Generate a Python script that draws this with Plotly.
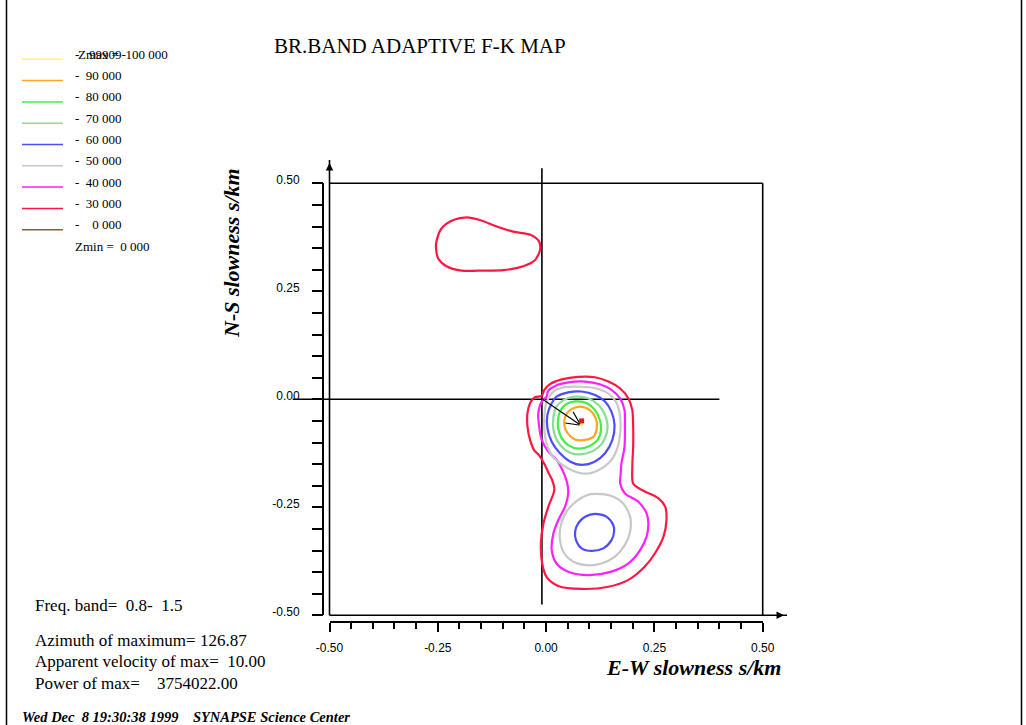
import numpy as np
import plotly.graph_objects as go

W, H = 1026, 725

# ---------------- data ----------------
levels = [100, 90, 80, 70, 60, 50, 40, 30, 0]
level_colors = ["#ffff44", "#ffa520", "#44ee44", "#88dd99", "#4d4dff",
                "#c8c8c8", "#ff1fff", "#ff1744", "#a0522d"]

x_ticks = [-0.5, -0.25, 0.0, 0.25, 0.5]
x_ticktext = ["-0.50", "-0.25", "0.00", "0.25", "0.50"]
y_ticks = [-0.5, -0.25, 0.0, 0.25, 0.5]
y_ticktext = ["-0.50", "-0.25", "0.00", "0.25", "0.50"]

# contour 30 (main, encloses both peaks)
c30a_x = [-0.010, -0.004, 0.009, 0.036, 0.074, 0.113, 0.144, 0.171, 0.190, 0.199, 0.201, 0.201,
          0.199, 0.201, 0.221, 0.259, 0.275, 0.278, 0.271, 0.251, 0.228, 0.190, 0.144, 0.082,
          0.028, 0.001, -0.009, -0.012, -0.006, 0.005, 0.019, 0.014, 0.006, -0.004, -0.016,
          -0.028, -0.037, -0.043, -0.043, -0.037, -0.026, -0.010]
c30a_y = [0.008, 0.022, 0.035, 0.046, 0.052, 0.051, 0.041, 0.025, 0.002, -0.025, -0.063, -0.110,
          -0.156, -0.195, -0.210, -0.229, -0.249, -0.279, -0.318, -0.357, -0.387, -0.418, -0.434, -0.439,
          -0.432, -0.411, -0.380, -0.333, -0.287, -0.249, -0.210, -0.187, -0.171, -0.150, -0.130,
          -0.117, -0.094, -0.063, -0.032, -0.009, 0.005, 0.008]
# contour 30 (upper-left blob)
c30b_x = [-0.253, -0.241, -0.214, -0.183, -0.153, -0.114, -0.076, -0.034, -0.016, -0.014, -0.026,
          -0.053, -0.099, -0.145, -0.195, -0.230, -0.249, -0.254, -0.253]
c30b_y = [0.366, 0.396, 0.415, 0.421, 0.415, 0.400, 0.388, 0.380, 0.365, 0.346, 0.322,
          0.308, 0.299, 0.298, 0.298, 0.308, 0.326, 0.349, 0.366]
# contour 40
c40_x = [0.001, 0.005, 0.021, 0.051, 0.090, 0.124, 0.151, 0.171, 0.181, 0.182, 0.181, 0.174, 0.172,
         0.171, 0.182, 0.213, 0.232, 0.236, 0.232, 0.217, 0.190, 0.151, 0.098, 0.051, 0.024, 0.013,
         0.017, 0.028, 0.044, 0.051, 0.048, 0.036, 0.024, 0.005, -0.010, -0.016, -0.018, -0.010, 0.001]
c40_y = [0.006, 0.020, 0.031, 0.039, 0.041, 0.035, 0.022, 0.002, -0.025, -0.063, -0.110, -0.148, -0.175,
         -0.195, -0.218, -0.237, -0.264, -0.287, -0.318, -0.349, -0.380, -0.399, -0.407, -0.399, -0.380, -0.349,
         -0.310, -0.280, -0.248, -0.218, -0.191, -0.160, -0.140, -0.121, -0.094, -0.063, -0.032, -0.005, 0.006]
# contour 50 (upper peak)
c50a_x = [0.005, 0.017, 0.044, 0.082, 0.121, 0.148, 0.163, 0.171, 0.171, 0.163, 0.148, 0.121, 0.090,
          0.059, 0.032, 0.013, 0.001, -0.004, -0.004, -0.001, 0.005]
c50a_y = [0.002, 0.018, 0.028, 0.029, 0.024, 0.010, -0.009, -0.040, -0.079, -0.117, -0.144, -0.164, -0.172,
          -0.164, -0.148, -0.129, -0.102, -0.071, -0.040, -0.013, 0.002]
# contour 50 (lower peak)
c50b_x = [0.113, 0.151, 0.178, 0.194, 0.194, 0.182, 0.159, 0.128, 0.094, 0.063, 0.042, 0.032, 0.034,
          0.047, 0.071, 0.094, 0.113]
c50b_y = [-0.219, -0.224, -0.241, -0.272, -0.306, -0.337, -0.364, -0.380, -0.384, -0.376, -0.357, -0.326,
          -0.291, -0.260, -0.235, -0.222, -0.219]
# contour 60 (upper peak)
c60a_x = [0.013, 0.024, 0.051, 0.082, 0.113, 0.136, 0.151, 0.158, 0.153, 0.136, 0.113, 0.082, 0.055,
          0.032, 0.013, 0.003, 0.003, 0.013]
c60a_y = [-0.009, 0.006, 0.016, 0.018, 0.010, -0.005, -0.029, -0.060, -0.094, -0.125, -0.144, -0.152,
          -0.144, -0.125, -0.098, -0.067, -0.036, -0.009]
# contour 60 (lower peak)
c60b_x = [0.113, 0.140, 0.155, 0.157, 0.151, 0.132, 0.105, 0.082, 0.069, 0.067, 0.074, 0.090, 0.113]
c60b_y = [-0.265, -0.272, -0.291, -0.306, -0.326, -0.345, -0.351, -0.345, -0.326, -0.306, -0.287, -0.272, -0.265]
# contour 70
c70_x = [0.024, 0.040, 0.067, 0.098, 0.121, 0.136, 0.142, 0.136, 0.121, 0.094, 0.067, 0.044, 0.027,
         0.017, 0.017, 0.024]
c70_y = [-0.017, -0.002, 0.006, 0.002, -0.013, -0.036, -0.063, -0.090, -0.111, -0.125, -0.127, -0.117,
         -0.098, -0.071, -0.040, -0.017]
# contour 80
c80_x = [0.032, 0.044, 0.067, 0.094, 0.113, 0.124, 0.127, 0.119, 0.101, 0.074, 0.051, 0.036, 0.028,
         0.028, 0.032]
c80_y = [-0.029, -0.013, -0.005, -0.009, -0.025, -0.048, -0.071, -0.094, -0.108, -0.114, -0.106, -0.090,
         -0.067, -0.044, -0.029]
# contour 90
c90_x = [0.044, 0.055, 0.078, 0.101, 0.115, 0.117, 0.109, 0.090, 0.067, 0.050, 0.042, 0.044]
c90_y = [-0.040, -0.025, -0.017, -0.025, -0.044, -0.067, -0.087, -0.094, -0.093, -0.079, -0.059, -0.040]

contours = [
    (30, c30a_x, c30a_y), (30, c30b_x, c30b_y), (40, c40_x, c40_y),
    (50, c50a_x, c50a_y), (50, c50b_x, c50b_y), (60, c60a_x, c60a_y),
    (60, c60b_x, c60b_y), (70, c70_x, c70_y), (80, c80_x, c80_y), (90, c90_x, c90_y),
]

# crosshair, arrow to maximum
cross_h_x = [-0.585, 0.40]
cross_h_y = [0.0, 0.0]
cross_v_x = [-0.0097, -0.0097]
cross_v_y = [0.535, -0.475]
arrow_tail = (-0.008, 0.0)
max_x, max_y = 0.08, -0.06
max_mark_x, max_mark_y = 0.082, -0.05

info_lines = ["Freq. band=\u00a0\u00a00.8-\u00a0\u00a01.5",
              "Azimuth of maximum= 126.87",
              "Apparent velocity of max=\u00a0\u00a010.00",
              "Power of max=\u00a0\u00a0\u00a0\u00a03754022.00"]
footer = "Wed Dec\u00a0\u00a08 19:30:38 1999\u00a0\u00a0\u00a0\u00a0SYNAPSE Science Center"
title_text = "BR.BAND ADAPTIVE F-K MAP"

# ---------------- geometry (pixels) ----------------
BOX_L, BOX_R, BOX_T, BOX_B = 329.5, 762.7, 183.3, 615.3
def fx(px): return px / W
def fy(py): return 1 - py / H

sx = (BOX_R - BOX_L) / 1.0
sy = (BOX_B - BOX_T) / 1.0
x2_range = [-0.5 - BOX_L / sx, 0.5 + (W - BOX_R) / sx]
y2_range = [-0.5 - (H - BOX_B) / sy, 0.5 + BOX_T / sy]

color_of = dict(zip(levels, level_colors))

# arrow head arms derived from the arrow direction
back = np.array(arrow_tail) - np.array([max_x, max_y])
back = back / np.linalg.norm(back)
arm_len, arm_ang = 0.036, np.radians(26)
def rot(v, a):
    return np.array([v[0] * np.cos(a) - v[1] * np.sin(a), v[0] * np.sin(a) + v[1] * np.cos(a)])
a1 = np.array([max_x, max_y]) + arm_len * rot(back, arm_ang)
a2 = np.array([max_x, max_y]) + arm_len * rot(back, -arm_ang)

fig = go.Figure()
fig.add_trace(go.Scatter(x=[None], y=[None], xaxis="x", yaxis="y", showlegend=False, hoverinfo="skip"))

fig.add_trace(go.Scatter(x=cross_h_x, y=cross_h_y, mode="lines", xaxis="x2", yaxis="y2",
                         line=dict(color="black", width=1.6), showlegend=False, hoverinfo="skip"))
fig.add_trace(go.Scatter(x=cross_v_x, y=cross_v_y, mode="lines", xaxis="x2", yaxis="y2",
                         line=dict(color="black", width=1.6), showlegend=False, hoverinfo="skip"))

for lvl, cx, cy in contours:
    fig.add_trace(go.Scatter(x=cx, y=cy, mode="lines", xaxis="x2", yaxis="y2",
                             line=dict(color=color_of[lvl], width=2.2, shape="spline", smoothing=0.8),
                             showlegend=False, hoverinfo="skip"))

# arrow: shaft + open head
fig.add_trace(go.Scatter(x=[arrow_tail[0], max_x, None, a1[0], max_x, a2[0]],
                         y=[arrow_tail[1], max_y, None, a1[1], max_y, a2[1]],
                         mode="lines", xaxis="x2", yaxis="y2", line=dict(color="black", width=1.2),
                         showlegend=False, hoverinfo="skip"))

fig.add_trace(go.Scatter(x=[max_mark_x], y=[max_mark_y], mode="markers", xaxis="x2", yaxis="y2",
                         marker=dict(color="#ff1010", size=5, symbol="square"),
                         showlegend=False, hoverinfo="skip"))
fig.add_trace(go.Scatter(x=[max_x], y=[max_y], mode="markers", xaxis="x2", yaxis="y2",
                         marker=dict(color=color_of[100], size=3),
                         showlegend=False, hoverinfo="skip"))

annotations = []
shapes = []
frame = dict(color="black", width=1.6)
shapes += [
    dict(type="line", xref="x domain", yref="y domain", x0=0, x1=1, y0=1, y1=1, line=frame),
    dict(type="line", xref="x domain", yref="y domain", x0=1, x1=1, y0=0, y1=1, line=frame),
    dict(type="line", xref="x domain", yref="y domain", x0=0, x1=(787 - BOX_L) / sx, y0=0, y1=0, line=frame),
    dict(type="line", xref="x domain", yref="y domain", x0=0, x1=0, y0=0, y1=(BOX_B - 160) / sy, line=frame),
    dict(type="line", xref="paper", yref="paper", x0=fx(6.5), x1=fx(6.5), y0=0, y1=1,
         line=dict(color="black", width=1.5)),
    dict(type="line", xref="paper", yref="paper", x0=fx(1021.5), x1=fx(1021.5), y0=0, y1=1,
         line=dict(color="black", width=1.5)),
]
# arrow tips of frame
annotations.append(dict(x=fx(784), y=fy(BOX_B), xref="paper", yref="paper", ax=-8, ay=0, text="",
                        showarrow=True, arrowhead=2, arrowsize=1, arrowwidth=1.5, arrowcolor="black"))
annotations.append(dict(x=fx(BOX_L), y=fy(163), xref="paper", yref="paper", ax=0, ay=8, text="",
                        showarrow=True, arrowhead=2, arrowsize=1, arrowwidth=1.5, arrowcolor="black"))

# legend (custom)
serif = "Liberation Serif"
for i, (lvl, col) in enumerate(zip(levels, level_colors)):
    ly = 59.3 + 21.3 * i
    shapes.append(dict(type="line", xref="paper", yref="paper", x0=fx(22), x1=fx(63),
                       y0=fy(ly), y1=fy(ly), line=dict(color=col, width=1.5)))
    if lvl == 100:
        annotations.append(dict(x=fx(76), y=fy(ly - 5), xref="paper", yref="paper",
                                text="Zmax =\u00a0\u00a0100 000", showarrow=False, xanchor="left",
                                yanchor="middle", font=dict(family=serif, size=13, color="black")))
        annotations.append(dict(x=fx(73), y=fy(ly - 5), xref="paper", yref="paper",
                                text="-\u00a0\u00a0\u00a099909-", showarrow=False, xanchor="left",
                                yanchor="middle", font=dict(family=serif, size=13, color="black")))
    else:
        s = str(lvl)
        txt = "-\u00a0\u00a0" + "\u00a0" * (2 - len(s)) * 2 + s + " 000"
        annotations.append(dict(x=fx(73), y=fy(ly - 5), xref="paper", yref="paper", text=txt,
                                showarrow=False, xanchor="left", yanchor="middle",
                                font=dict(family=serif, size=13, color="black")))
annotations.append(dict(x=fx(73), y=fy(246), xref="paper", yref="paper", text="Zmin =\u00a0\u00a00 000",
                        showarrow=False, xanchor="left", yanchor="middle",
                        font=dict(family=serif, size=13, color="black")))

# title & axis titles
annotations.append(dict(x=fx(420), y=fy(46), xref="paper", yref="paper", text=title_text,
                        showarrow=False, xanchor="center", yanchor="middle",
                        font=dict(family=serif, size=21, color="black")))
annotations.append(dict(x=fx(693.5), y=fy(667), xref="paper", yref="paper",
                        text="<b><i>E-W slowness s/km</i></b>", showarrow=False,
                        xanchor="center", yanchor="middle", font=dict(family=serif, size=22, color="black")))
annotations.append(dict(x=fx(232), y=fy(253), xref="paper", yref="paper",
                        text="<b><i>N-S slowness s/km</i></b>", showarrow=False, textangle=-90,
                        xanchor="center", yanchor="middle", font=dict(family=serif, size=22, color="black")))

# info text
for txt, py in zip(info_lines, [605, 640, 661, 683]):
    annotations.append(dict(x=fx(33), y=fy(py), xref="paper", yref="paper", text=txt,
                            showarrow=False, xanchor="left", yanchor="middle",
                            font=dict(family=serif, size=17, color="black")))
annotations.append(dict(x=fx(20), y=fy(717), xref="paper", yref="paper", text="<b><i>" + footer + "</i></b>",
                        showarrow=False, xanchor="left", yanchor="middle",
                        font=dict(family=serif, size=14.5, color="black")))

tickfont = dict(family="Liberation Sans", size=12, color="black")
fig.update_layout(
    width=W, height=H, margin=dict(l=0, r=0, t=0, b=0, autoexpand=False),
    paper_bgcolor="white", plot_bgcolor="rgba(0,0,0,0)", showlegend=False,
    xaxis=dict(domain=[fx(BOX_L), fx(BOX_R)], range=[-0.5, 0.5], anchor="free", position=fy(622.3),
               showline=True, linecolor="black", linewidth=1.6, ticks="outside", ticklen=9,
               tickwidth=1.5, tickcolor="black", tickmode="array", tickvals=x_ticks, ticktext=x_ticktext,
               tickfont=tickfont, showgrid=False, zeroline=False, ticklabelstandoff=5, automargin=False,
               minor=dict(tickmode="linear", tick0=0, dtick=0.05, ticks="outside", ticklen=6,
                          tickwidth=1.5, tickcolor="black", showgrid=False)),
    yaxis=dict(domain=[fy(BOX_B), fy(BOX_T)], range=[-0.5, 0.5], anchor="free", position=fx(323.3),
               showline=True, linecolor="black", linewidth=1.6, ticks="outside", ticklen=10.5,
               tickwidth=1.5, tickcolor="black", tickmode="array", tickvals=y_ticks, ticktext=y_ticktext,
               tickfont=tickfont, showgrid=False, zeroline=False, ticklabelstandoff=10, ticklabelshift=-4,
               automargin=False,
               minor=dict(tickmode="linear", tick0=0, dtick=0.05, ticks="outside", ticklen=10.5,
                          tickwidth=1.5, tickcolor="black", showgrid=False)),
    xaxis2=dict(domain=[0, 1], range=x2_range, anchor="y2", visible=False, fixedrange=True, automargin=False),
    yaxis2=dict(domain=[0, 1], range=y2_range, anchor="x2", visible=False, fixedrange=True, automargin=False),
    shapes=shapes, annotations=annotations,
)

fig.write_html("out.html", config={"responsive": False})
